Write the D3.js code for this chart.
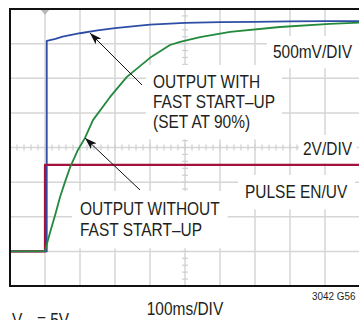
<!DOCTYPE html>
<html>
<head>
<meta charset="utf-8">
<script src="https://cdn.jsdelivr.net/npm/d3@7"></script>
<style>
  body { margin: 0; background: #fff; }
  svg { display: block; }
  text { font-family: "Liberation Sans", Arial, Helvetica, sans-serif; fill: #231f20; }
</style>
</head>
<body>
<script>
// time in ms (100ms/DIV), level in divisions from screen centre
var blueT = [0, 105, 105, 130, 150, 200, 250, 300, 350, 400, 500, 600, 700, 800, 900, 1000];
var blueV = [-3, -3, 3.08, 3.14, 3.2, 3.3, 3.38, 3.45, 3.5, 3.55, 3.6, 3.62, 3.63, 3.64, 3.65, 3.65];

var greenT = [0, 100, 114, 129, 143, 157, 171, 194, 214, 237, 286, 334, 400, 457, 486, 543, 629, 771, 914, 1000];
var greenV = [-3, -2.99, -2.47, -1.95, -1.43, -1.0, -0.59, -0.07, 0.27, 0.79, 1.46, 2.04, 2.59, 2.96, 3.05, 3.19, 3.34, 3.48, 3.57, 3.61];

var redT = [0, 100, 100, 1000];
var redV = [-3, -3, -0.5, -0.5];

var xDivs = d3.range(0, 1001, 100);
var yDivs = d3.range(-4, 5, 1);

var width = 359, height = 320;
var svg = d3.select("body").append("svg")
    .attr("width", width)
    .attr("height", height);

var x = d3.scaleLinear().domain([0, 1000]).range([10, 360]);
var y = d3.scaleLinear().domain([-4, 4]).range([286, 9]);

var grid = svg.append("g");
var masks = svg.append("g");
var traces = svg.append("g");
var notes = svg.append("g");

// grid
grid.selectAll(".vg").data(xDivs).enter().append("line")
    .attr("x1", function(d) { return x(d); }).attr("x2", function(d) { return x(d); })
    .attr("y1", y(4)).attr("y2", y(-4))
    .attr("stroke", "#d6d6d6").attr("stroke-width", 1.5);
grid.selectAll(".hg").data(yDivs).enter().append("line")
    .attr("y1", function(d) { return y(d); }).attr("y2", function(d) { return y(d); })
    .attr("x1", x(0)).attr("x2", x(1000))
    .attr("stroke", "#d6d6d6").attr("stroke-width", 1.5);

// minor ticks on centre lines
grid.selectAll(".mx").data(d3.range(0, 1001, 20)).enter().append("line")
    .attr("x1", function(d) { return x(d); }).attr("x2", function(d) { return x(d); })
    .attr("y1", y(0) - 3).attr("y2", y(0) + 3)
    .attr("stroke", "#cfcfcf").attr("stroke-width", 1.2);
grid.selectAll(".my").data(d3.range(-4, 4.01, 0.2)).enter().append("line")
    .attr("y1", function(d) { return y(d); }).attr("y2", function(d) { return y(d); })
    .attr("x1", x(500) - 3).attr("x2", x(500) + 3)
    .attr("stroke", "#cfcfcf").attr("stroke-width", 1.2);

// trigger marker
grid.append("path")
    .attr("d", "M" + (x(100) - 4) + "," + (y(4) + 1) + "l8,0l-4,5z")
    .attr("fill", "#b8b8b8");

function trace(ts, vs, color, w) {
  var pts = ts.map(function(t, i) { return [t, vs[i]]; });
  traces.append("path")
      .datum(pts)
      .attr("fill", "none")
      .attr("stroke", color)
      .attr("stroke-width", w)
      .attr("stroke-linejoin", "round")
      .attr("d", d3.line().x(function(d) { return x(d[0]); }).y(function(d) { return y(d[1]); }));
}
trace(blueT, blueV, "#2e4ea6", 1.8);
trace(redT, redV, "#a3123c", 2.2);
trace(greenT, greenV, "#23893c", 1.8);

// border
svg.append("path")
    .attr("d", "M" + width + "," + y(4) + "H" + x(0) + "V" + y(-4) + "H" + width)
    .attr("fill", "none").attr("stroke", "#111").attr("stroke-width", 2);

// labels
function label(lines, lx, ly, anchor, size, lh, pad) {
  var g = notes.append("g").attr("transform", "translate(" + lx + "," + ly + ") scale(0.86,1)");
  var t = g.append("text").attr("font-size", size).attr("text-anchor", anchor);
  lines.forEach(function(s, i) {
    t.append("tspan").attr("x", 0).attr("y", i * lh).text(s);
  });
  if (pad != null) {
    var b = t.node().getBBox();
    masks.append("rect")
        .attr("x", lx + b.x * 0.86 - pad)
        .attr("y", ly + b.y - pad)
        .attr("width", b.width * 0.86 + 2 * pad)
        .attr("height", b.height + 2 * pad)
        .attr("fill", "#fff");
  }
  return t;
}
label(["500mV/DIV"], 352, 58, "end", 18, 20, 6);
label(["OUTPUT WITH", "FAST START\u2013UP", "(SET AT 90%)"], 153, 88, "start", 18, 20, 7);
label(["2V/DIV"], 352, 155, "end", 18, 20, 4);
label(["PULSE EN/UV"], 245, 198, "start", 18, 20, 7);
label(["OUTPUT WITHOUT", "FAST START\u2013UP"], 80, 215, "start", 18, 21, 8);
label(["100ms/DIV"], 185, 315, "middle", 18, 20, null);
label(["3042 G56"], 312, 300, "start", 11.5, 12, null);

var vin = label([""], 12, 326, "start", 18, 20, null);
vin.select("tspan").text("V");
vin.append("tspan").attr("font-size", 12).attr("dy", 4).text("IN");
vin.append("tspan").attr("dy", -4).text(" = 5V");

// arrows
var defs = svg.append("defs");
defs.append("marker")
    .attr("id", "ah")
    .attr("viewBox", "0 0 12 8")
    .attr("refX", 12).attr("refY", 4)
    .attr("markerWidth", 12).attr("markerHeight", 8)
    .attr("markerUnits", "userSpaceOnUse")
    .attr("orient", "auto")
  .append("path").attr("d", "M0,0L12,4L0,8L3,4z").attr("fill", "#111");

notes.append("line")
    .attr("x1", 142).attr("y1", 85).attr("x2", 90).attr("y2", 33)
    .attr("stroke", "#111").attr("stroke-width", 1).attr("marker-end", "url(#ah)");
notes.append("line")
    .attr("x1", 140).attr("y1", 190).attr("x2", 85).attr("y2", 138)
    .attr("stroke", "#111").attr("stroke-width", 1).attr("marker-end", "url(#ah)");
</script>
</body>
</html>
